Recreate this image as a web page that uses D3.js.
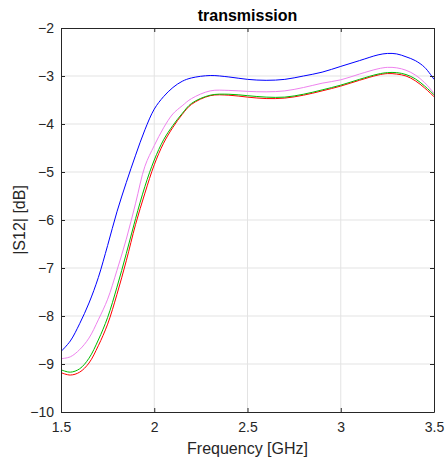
<!DOCTYPE html>
<html>
<head>
<meta charset="utf-8">
<script src="https://cdn.jsdelivr.net/npm/d3@7"></script>
<style>
  html, body { margin: 0; padding: 0; background: #fff; }
  svg { display: block; font-family: "Liberation Sans", Arial, Helvetica, sans-serif; }
</style>
</head>
<body>
<svg id="chart" width="448" height="467"></svg>
<script>
// Frequency samples [GHz]
const freq = [1.5, 1.55, 1.6, 1.65, 1.7, 1.75, 1.8, 1.85, 1.9, 1.95, 2.0, 2.05, 2.1, 2.15, 2.2,
              2.3, 2.4, 2.5, 2.6, 2.7, 2.8, 2.9, 3.0, 3.1, 3.2, 3.25, 3.3, 3.35, 3.4, 3.45, 3.5];

// |S12| in dB for each measured configuration
const s12Blue = [-8.74, -8.52, -8.16, -7.73, -7.20, -6.53, -5.83, -5.22, -4.65, -4.12, -3.69, -3.43, -3.24, -3.11, -3.04,
                 -2.99, -3.02, -3.07, -3.09, -3.07, -3.00, -2.92, -2.80, -2.68, -2.56, -2.53, -2.54, -2.60, -2.68, -2.82, -3.07];
const s12Pink = [-8.89, -8.85, -8.70, -8.46, -8.08, -7.65, -7.05, -6.40, -5.65, -4.88, -4.45, -4.08, -3.79, -3.62, -3.47,
                 -3.31, -3.30, -3.32, -3.33, -3.31, -3.24, -3.15, -3.08, -2.96, -2.85, -2.82, -2.83, -2.88, -2.98, -3.14, -3.36];
const s12Green = [-9.12, -9.17, -9.10, -8.88, -8.50, -8.03, -7.40, -6.70, -5.97, -5.30, -4.75, -4.33, -4.03, -3.78, -3.57,
                  -3.40, -3.38, -3.41, -3.44, -3.44, -3.38, -3.29, -3.19, -3.07, -2.96, -2.93, -2.93, -2.97, -3.06, -3.21, -3.39];
const s12Red = [-9.18, -9.23, -9.17, -8.98, -8.62, -8.17, -7.55, -6.85, -6.09, -5.44, -4.85, -4.40, -4.07, -3.80, -3.59,
                -3.41, -3.40, -3.44, -3.47, -3.46, -3.40, -3.31, -3.21, -3.09, -2.98, -2.95, -2.96, -3.00, -3.10, -3.25, -3.43];

const xTicks = [1.5, 2, 2.5, 3, 3.5];
const yTicks = [-10, -9, -8, -7, -6, -5, -4, -3, -2];

const series = [
  { name: "blue", values: s12Blue, color: "#0000ff" },
  { name: "pink", values: s12Pink, color: "#ee82ee" },
  { name: "red", values: s12Red, color: "#ff0000" },
  { name: "green", values: s12Green, color: "#00bb00" }
];

const plot = { left: 61, right: 434, top: 28, bottom: 412 };
const svg = d3.select("#chart");

const x = d3.scaleLinear().domain([1.5, 3.5]).range([plot.left, plot.right]);
const y = d3.scaleLinear().domain([-10, -2]).range([plot.bottom, plot.top]);

const axisColor = "#262626";
const gridColor = "#e3e3e3";

// grid
const grid = svg.append("g");
grid.selectAll("line.gx").data(xTicks.slice(1, -1)).join("line")
  .attr("x1", d => x(d)).attr("x2", d => x(d))
  .attr("y1", plot.top).attr("y2", plot.bottom)
  .attr("stroke", gridColor).attr("stroke-width", 1);
grid.selectAll("line.gy").data(yTicks.slice(1, -1)).join("line")
  .attr("y1", d => y(d)).attr("y2", d => y(d))
  .attr("x1", plot.left).attr("x2", plot.right)
  .attr("stroke", gridColor).attr("stroke-width", 1);

// curves
const line = d3.line()
  .x((d, i) => x(freq[i]))
  .y(d => y(d))
  .curve(d3.curveCatmullRom.alpha(0.5));

svg.append("clipPath").attr("id", "plotclip")
  .append("rect").attr("x", plot.left).attr("y", plot.top)
  .attr("width", plot.right - plot.left).attr("height", plot.bottom - plot.top);

svg.append("g").attr("clip-path", "url(#plotclip)")
  .selectAll("path").data(series).join("path")
  .attr("d", d => line(d.values))
  .attr("fill", "none")
  .attr("stroke", d => d.color)
  .attr("stroke-width", 1);

// axes (box with inward ticks)
const tickLen = 4;
const axBottom = d3.axisBottom(x).tickValues(xTicks).tickFormat(d3.format("")).tickSizeInner(-tickLen).tickSizeOuter(0).tickPadding(10);
const axTop = d3.axisTop(x).tickValues(xTicks).tickFormat("").tickSizeInner(-tickLen).tickSizeOuter(0);
const axLeft = d3.axisLeft(y).tickValues(yTicks).tickFormat(d3.format("")).tickSizeInner(-tickLen).tickSizeOuter(0).tickPadding(7);
const axRight = d3.axisRight(y).tickValues(yTicks).tickFormat("").tickSizeInner(-tickLen).tickSizeOuter(0);

function styleAxis(g) {
  g.select(".domain").attr("stroke", axisColor).attr("stroke-width", 1);
  g.selectAll(".tick line").attr("stroke", axisColor).attr("stroke-width", 1);
  g.selectAll(".tick text").attr("fill", axisColor)
    .style("font-family", '"Liberation Sans", Arial, sans-serif').style("font-size", "14px");
}

svg.append("g").attr("transform", `translate(0,${plot.bottom})`).call(axBottom).call(styleAxis);
svg.append("g").attr("transform", `translate(0,${plot.top})`).call(axTop).call(styleAxis);
svg.append("g").attr("transform", `translate(${plot.left},0)`).call(axLeft).call(styleAxis);
svg.append("g").attr("transform", `translate(${plot.right},0)`).call(axRight).call(styleAxis);

// title and axis labels
svg.append("text")
  .attr("x", (plot.left + plot.right) / 2).attr("y", 21)
  .attr("text-anchor", "middle")
  .style("font-size", "16px").style("font-weight", "bold")
  .attr("fill", "#000")
  .text("transmission");

svg.append("text")
  .attr("x", (plot.left + plot.right) / 2).attr("y", 454)
  .attr("text-anchor", "middle")
  .style("font-size", "16px")
  .attr("fill", axisColor)
  .text("Frequency [GHz]");

svg.append("text")
  .attr("transform", `translate(25,${(plot.top + plot.bottom) / 2}) rotate(-90)`)
  .attr("text-anchor", "middle")
  .style("font-size", "16px")
  .attr("fill", axisColor)
  .text("|S12| [dB]");
</script>
</body>
</html>
